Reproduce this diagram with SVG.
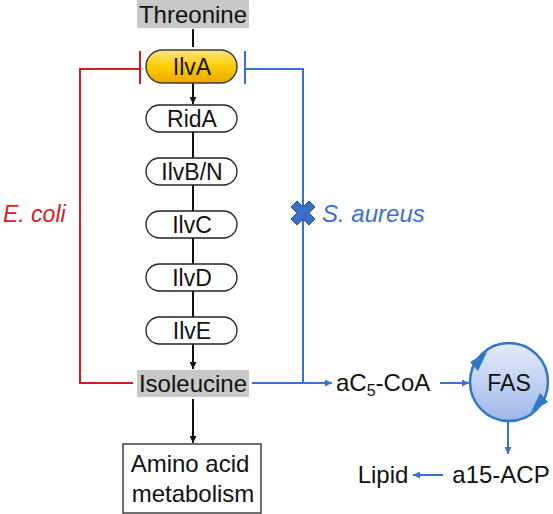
<svg xmlns="http://www.w3.org/2000/svg" width="553" height="514" viewBox="0 0 553 514">
<defs>
  <marker id="ak" viewBox="0 0 10 10" refX="10" refY="5" markerWidth="7" markerHeight="7" markerUnits="userSpaceOnUse" orient="auto"><path d="M0,0 L10,5 L0,10 z" fill="#111"/></marker>
  <marker id="ab" viewBox="0 0 10 10" refX="10" refY="5" markerWidth="7" markerHeight="7" markerUnits="userSpaceOnUse" orient="auto"><path d="M0,0 L10,5 L0,10 z" fill="#3a70d0"/></marker>
  <linearGradient id="gy" x1="0" y1="0" x2="0" y2="1">
    <stop offset="0" stop-color="#ffe680"/>
    <stop offset="0.5" stop-color="#ffcc00"/>
    <stop offset="1" stop-color="#e8a800"/>
  </linearGradient>
  <linearGradient id="gb" x1="0" y1="0" x2="0" y2="1">
    <stop offset="0" stop-color="#e4ecfb"/>
    <stop offset="1" stop-color="#9fb7ea"/>
  </linearGradient>
</defs>
<style>
  text { font-family: "Liberation Sans", Arial, sans-serif; fill: #111; }
  .t { font-size: 24px; text-anchor: middle; }
  .p { font-size: 23px; text-anchor: middle; }
  .pill { fill: #fff; stroke: #222; stroke-width: 1.3; }
  .k { stroke: #111; stroke-width: 2; fill: none; }
  .r { stroke: #d41c1c; stroke-width: 2; fill: none; }
  .b { stroke: #3a70d0; stroke-width: 2; fill: none; }
</style>
<rect width="553" height="514" fill="#fff"/>

<g id="connectors">
  <line class="k" x1="193" y1="29" x2="193" y2="47"/>
  <line class="k" x1="193" y1="83" x2="193" y2="104" marker-end="url(#ak)"/>
  <line class="k" x1="193" y1="132" x2="193" y2="158"/>
  <line class="k" x1="193" y1="185" x2="193" y2="211"/>
  <line class="k" x1="193" y1="238" x2="193" y2="264"/>
  <line class="k" x1="193" y1="291" x2="193" y2="317"/>
  <line class="k" x1="193" y1="344" x2="193" y2="369" marker-end="url(#ak)"/>
  <line class="k" x1="193" y1="399" x2="193" y2="443" marker-end="url(#ak)"/>
  <polyline class="r" points="133,383 80,383 80,69 140,69"/>
  <line class="r" x1="140" y1="51" x2="140" y2="84" stroke-width="2.5"/>
  <polyline class="b" points="303,383 303,69 245,69"/>
  <line class="b" x1="245" y1="51" x2="245" y2="84" stroke-width="2.5"/>
  <line class="b" x1="252" y1="383" x2="332" y2="383" marker-end="url(#ab)"/>
  <line class="b" x1="440" y1="383" x2="469" y2="383" marker-end="url(#ab)"/>
  <line class="b" x1="508" y1="421" x2="508" y2="454" marker-end="url(#ab)"/>
  <line class="b" x1="443" y1="475" x2="413" y2="475" marker-end="url(#ab)"/>
</g>

<g id="threonine">
  <rect x="137" y="0" width="112" height="28" fill="#c8c8c8"/>
  <text class="t" x="193" y="23">Threonine</text>
</g>
<g id="ilvA">
  <rect x="146" y="50" width="91" height="33" rx="16.5" fill="url(#gy)" stroke="#3c3c3c" stroke-width="1.5"/>
  <text class="p" x="192" y="75">IlvA</text>
</g>
<g id="ridA">
  <rect class="pill" x="146" y="105" width="91" height="27" rx="13.5"/>
  <text class="p" x="192" y="127">RidA</text>
</g>
<g id="ilvBN">
  <rect class="pill" x="146" y="158" width="91" height="27" rx="13.5"/>
  <text class="p" x="192" y="180">IlvB/N</text>
</g>
<g id="ilvC">
  <rect class="pill" x="146" y="211" width="91" height="27" rx="13.5"/>
  <text class="p" x="192" y="233">IlvC</text>
</g>
<g id="ilvD">
  <rect class="pill" x="146" y="264" width="91" height="27" rx="13.5"/>
  <text class="p" x="192" y="286">IlvD</text>
</g>
<g id="ilvE">
  <rect class="pill" x="146" y="317" width="91" height="27" rx="13.5"/>
  <text class="p" x="192" y="339">IlvE</text>
</g>
<g id="isoleucine">
  <rect x="137" y="370" width="112" height="27" fill="#c8c8c8"/>
  <text class="t" x="193" y="392">Isoleucine</text>
</g>
<g id="amino">
  <rect x="123" y="444" width="138" height="69" fill="#fff" stroke="#222" stroke-width="1.3"/>
  <text class="t" x="190" y="472">Amino acid</text>
  <text class="t" x="193" y="502">metabolism</text>
</g>
<g id="ecoli">
  <text x="3" y="222" font-size="23" font-style="italic" style="fill:#d41c1c">E. coli</text>
</g>
<g id="saureus">
  <path d="M-6,-12 L0,-6 L6,-12 L12,-6 L6,0 L12,6 L6,12 L0,6 L-6,12 L-12,6 L-6,0 L-12,-6 Z" transform="translate(303,213)" fill="#3a6fc8" stroke="#2a4f90" stroke-width="1" stroke-linejoin="round"/>
  <text x="322" y="222" font-size="24" font-style="italic" style="fill:#3a70d0">S. aureus</text>
</g>
<g id="ac5coa">
  <text x="336" y="391" font-size="24">aC<tspan font-size="16" dy="5">5</tspan><tspan dy="-5">-CoA</tspan></text>
</g>
<g id="fas">
  <circle cx="509" cy="382" r="39" fill="url(#gb)" stroke="#2f78c8" stroke-width="2.5"/>
  <path d="M470,362 L487,352 L478,371 Z" fill="#2f78c8"/>
  <path d="M548,402 L531,412 L540,393 Z" fill="#2f78c8"/>
  <text x="509" y="391" font-size="23" text-anchor="middle">FAS</text>
</g>
<g id="a15acp">
  <text class="t" x="501" y="483">a15-ACP</text>
</g>
<g id="lipid">
  <text class="t" x="383" y="483">Lipid</text>
</g>
</svg>
